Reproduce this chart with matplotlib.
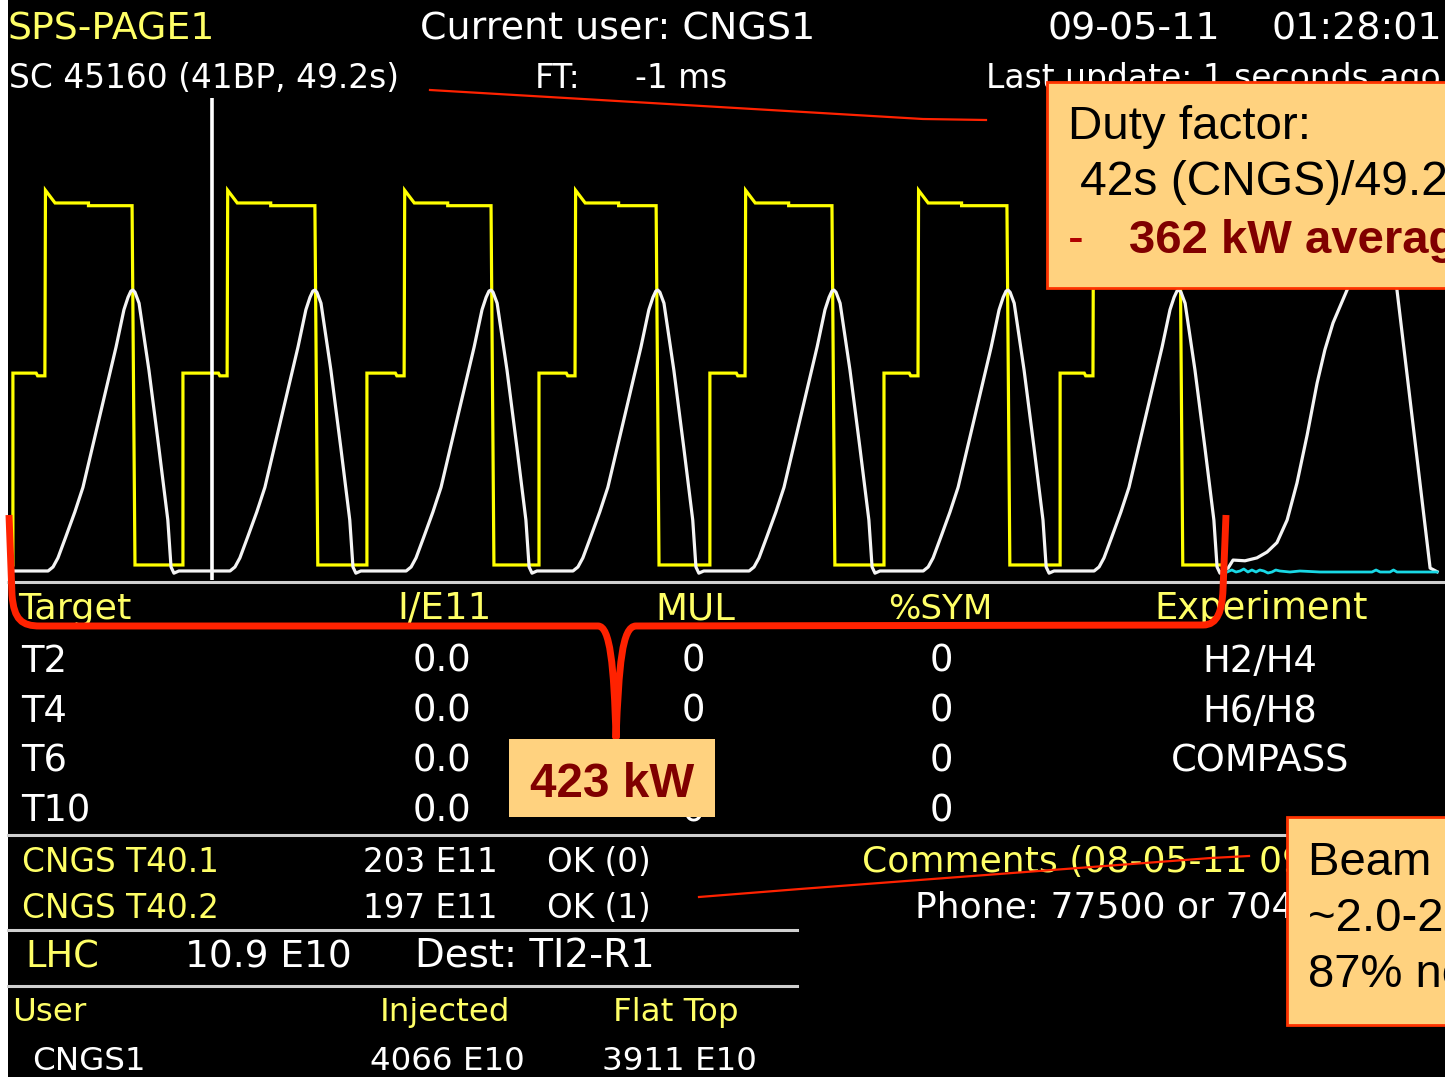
import matplotlib
matplotlib.use("Agg")
import matplotlib.pyplot as plt
from matplotlib.patches import Rectangle, PathPatch
from matplotlib.path import Path

# ------------------------------------------------------------------ data
SUPERCYCLE_S = 49.2
cursor_s = 6.95

# yellow trace: circulating intensity (E11) in the seven CNGS cycles
inj1_s = [0.10, 5.95, 12.28, 18.20, 24.08, 30.07, 36.13]
inj2_s = [1.20, 7.47, 13.56, 19.44, 25.29, 31.24, 37.26]
extr_s = [4.20, 10.49, 16.55, 22.23, 28.28, 34.30, 40.25]
intensity_end_s = 41.63
first_batch_e11 = [212, 209]
second_peak_e11 = 414
flat_top_e11 = [400, 397]
overshoot_dt_s = [0.02, 0.35]
step_dt_s = 1.5
dip_dt_s = [0.30, 0.25]
extr_fall_s = 0.10

# white trace: momentum (GeV/c)
cngs_peak_s = [4.23, 10.49, 16.55, 22.29, 28.35, 34.34, 40.22]
# one CNGS magnetic cycle, relative to its flat-top time
ramp_dt_s = [-2.92, -2.75, -2.58, -2.31, -2.00, -1.72, -1.17, -0.58, -0.31, -0.17, -0.07, 0.0,
             0.07, 0.21, 0.55, 0.89, 1.20, 1.31, 1.41, 1.58]
ramp_p_gev = [14, 19.5, 32, 61, 95, 129, 222, 322, 373, 390, 398.7, 400,
              397, 382, 290, 184, 84, 19.5, 11, 14]
lhc_t_s = [41.70, 41.91, 42.08, 42.49, 42.90, 43.25, 43.59, 43.94, 44.28, 44.63,
           44.97, 45.24, 45.52, 46.00, 46.52, 47.58, 47.72, 48.17, 48.51, 48.86, 49.10]
lhc_p_gev = [14, 18, 29, 28, 32, 40, 53, 84, 135, 201,
             272, 318, 355, 400, 450, 450, 400, 249, 135, 18, 13]

# cyan trace: LHC beam intensity (arbitrary units)
lhc_int_t_s = [41.80, 41.95, 42.04, 42.18, 42.32, 42.45, 42.59, 42.73, 42.87, 43.00,
               43.14, 43.28, 43.42, 43.55, 43.69, 44.04, 44.38, 45.07, 45.76, 46.45,
               46.86, 47.00, 47.14, 47.48, 47.60, 47.72, 48.51, 49.10]
lhc_int = [1, 3, 4, 2, 3, 5, 2, 4, 2, 4,
           3, 1, 2, 4, 3, 2, 3, 2, 2, 2,
           2, 4, 2, 2, 4, 2, 2, 2]

# ------------------------------------------------------------------ figure
W, H = 1445, 1077
fig = plt.figure(figsize=(W / 100, H / 100), dpi=100, facecolor="black")

# trace panel: pixel box x 10..1440, y 98..580
ax = fig.add_axes([10 / W, (H - 580) / H, 1430 / W, (580 - 98) / H])
ax.set_ylim(-16.6, 516)
ax.axis("off")
ax2 = ax.twinx()
ax2.set_ylim(1.6, 664)
ax2.axis("off")
ax3 = ax.twinx()
ax3.set_ylim(-6, 476)
ax3.axis("off")
for a in (ax, ax2, ax3):
    a.set_xlim(0, SUPERCYCLE_S)
    a.patch.set_alpha(0)

# yellow series
ty, vy = [0.0], [0.0]
for a_, b_, c_ in zip(inj1_s, inj2_s, extr_s):
    ty += [a_, a_, b_ - dip_dt_s[0], b_ - dip_dt_s[1], b_,
           b_ + overshoot_dt_s[0], b_ + overshoot_dt_s[1], b_ + step_dt_s, b_ + step_dt_s,
           c_, c_ + extr_fall_s]
    vy += [0, first_batch_e11[0], first_batch_e11[0], first_batch_e11[1], first_batch_e11[1],
           second_peak_e11, flat_top_e11[0], flat_top_e11[0], flat_top_e11[1],
           flat_top_e11[1], 0]
ty.append(intensity_end_s)
vy.append(0)
ax.plot(ty, vy, color="#ffff00", lw=2.3, solid_joinstyle="miter", zorder=3)

# white series
tw, vw = [0.0], [ramp_p_gev[0]]
for tp in cngs_peak_s:
    tw += [tp + d for d in ramp_dt_s]
    vw += ramp_p_gev
tw += lhc_t_s
vw += lhc_p_gev
ax2.plot(tw, vw, color="#f4f4f4", lw=2.3, zorder=4)

# cyan series
ax3.plot(lhc_int_t_s, lhc_int, color="#19d9e6", lw=2.0, zorder=3)

ax.axvline(cursor_s, color="white", lw=2.6, zorder=5)

# ------------------------------------------------------------------ overlay (pixel coords)
ov = fig.add_axes([0, 0, 1, 1])
ov.set_xlim(0, W)
ov.set_ylim(H, 0)
ov.axis("off")
ov.patch.set_alpha(0)

ov.add_patch(Rectangle((0, 0), 8, H, facecolor="white", edgecolor="none", zorder=0))

SEP = "#d0d0d0"
ov.plot([8, W], [581.5, 581.5], color=SEP, lw=2.2, zorder=1)
ov.plot([8, W], [835, 835], color=SEP, lw=2.2, zorder=1)
ov.plot([8, 797], [930, 930], color=SEP, lw=2.2, zorder=1)
ov.plot([8, 797], [986, 986], color=SEP, lw=2.2, zorder=1)

renderer = fig.canvas.get_renderer()
SCREEN = "DejaVu Sans"
SLIDE = "Liberation Sans"
YT = "#ffff66"
WT = "white"


def put(x, y, s, color, size, width=None, ha="left", family=SCREEN, weight="normal", z=4):
    t = ov.text(x, y, s, color=color, fontsize=size, ha=ha, va="baseline",
                family=family, weight=weight, zorder=z)
    if width is not None:
        w = t.get_window_extent(renderer).width
        t.set_fontsize(size * width / w)
    return t


# header
put(8, 40, "SPS-PAGE1", YT, 27, width=207)
L1 = put(420, 40, "Current user: CNGS1", WT, 27, width=395).get_fontsize()
put(1048, 40, "09-05-11", WT, L1)
put(1272, 40, "01:28:01", WT, L1)
L2 = put(9, 88, "SC 45160 (41BP, 49.2s)", WT, 23.7, width=390).get_fontsize()
put(535, 88, "FT:", WT, L2)
put(727, 88, "-1 ms", WT, L2, ha="right")
put(986, 88, "Last update: 1 seconds ago", WT, L2)

# target table
TB = 26.6
put(18, 619, "Target", YT, TB, width=113)
put(397, 619, "I/E11", YT, TB, width=94)
put(655, 619, "MUL", YT, TB, width=80)
put(888, 619, "%SYM", YT, TB, width=104)
put(1154, 619, "Experiment", YT, TB, width=213)

targets = ["T2", "T4", "T6", "T10"]
intens = ["0.0", "0.0", "0.0", "0.0"]
mul = ["0", "0", "0", "0"]
sym = ["0", "0", "0", "0"]
experiments = ["H2/H4", "H6/H8", "COMPASS", ""]
for i, yb in enumerate([672, 722, 772, 822]):
    put(21, yb, targets[i], WT, TB)
    put(413, yb, intens[i], WT, TB)
    put(693, yb, mul[i], WT, TB, ha="center")
    put(941, yb, sym[i], WT, TB, ha="center")
    if experiments[i]:
        put(1260, yb, experiments[i], WT, TB, ha="center")

# CNGS targets
CB = 23.5
put(22, 872, "CNGS T40.1", YT, CB, width=197)
put(363, 872, "203 E11", WT, CB)
put(547, 872, "OK (0)", WT, CB)
put(22, 918, "CNGS T40.2", YT, CB, width=197)
put(363, 918, "197 E11", WT, CB)
put(547, 918, "OK (1)", WT, CB)
put(862, 872, "Comments (08-05-11 09:00)", YT, 26)
put(915, 917, "Phone: 77500 or 70475", WT, 26)

put(25, 968, "LHC", YT, 26.5)
put(185, 968, "10.9 E10", WT, 27, width=167)
put(415, 968, "Dest: TI2-R1", WT, 27, width=240)

UB = 23.4
put(12, 1021, "User", YT, UB)
put(380, 1021, "Injected", YT, UB)
put(613, 1021, "Flat Top", YT, UB)
put(32, 1070, "CNGS1", WT, UB)
put(370, 1070, "4066 E10", WT, UB)
put(602, 1070, "3911 E10", WT, UB)

# ------------------------------------------------------------------ slide annotations
RED = "#ff2200"
BOX = "#ffd27f"
MAROON = "#800000"

ov.plot([430, 923, 986], [90, 119, 120], color=RED, lw=1.6, zorder=8)
ov.plot([699, 800, 1211, 1249], [897, 889, 858, 856], color=RED, lw=1.6, zorder=8)

ov.add_patch(Rectangle((1047, 82), 430, 206, facecolor=BOX, edgecolor="#ff3300", lw=2.0, zorder=9))
put(1068, 139, "Duty factor:", "black", 34, width=243, family=SLIDE, z=10)
put(1080, 195, "42s (CNGS)/49.2s", "black", 34.6, family=SLIDE, z=10)
put(1068, 253, "-", "#b00000", 34, family=SLIDE, z=10)
put(1129, 253, "362 kW average", MAROON, 34, family=SLIDE, weight="bold", z=10)

ov.add_patch(Rectangle((509, 739), 206, 78, facecolor=BOX, edgecolor="none", zorder=9))
put(612, 797, "423 kW", MAROON, 34, width=164, ha="center", family=SLIDE, weight="bold", z=10)

ov.add_patch(Rectangle((1287, 817), 220, 208, facecolor=BOX, edgecolor="#ff3300", lw=2.0, zorder=9))
put(1308, 875, "Beam intensity", "black", 34, family=SLIDE, z=10)
put(1308, 931, "~2.0-2.1 E13", "black", 34, family=SLIDE, z=10)
put(1308, 987, "87% nominal", "black", 34, family=SLIDE, z=10)

M, L, C = Path.MOVETO, Path.LINETO, Path.CURVE4
verts = [(9, 515), (12, 595),
         (14, 620), (22, 626), (40, 626),
         (598, 626),
         (610, 626), (614, 665), (616, 738),
         (619, 665), (622, 626), (636, 626),
         (1203, 625),
         (1218, 625), (1222, 610), (1223, 590),
         (1226, 515)]
codes = [M, L, C, C, C, L, C, C, C, C, C, C, L, C, C, C, L]
ov.add_patch(PathPatch(Path(verts, codes), facecolor="none", edgecolor=RED, lw=5.0,
                       joinstyle="round", capstyle="butt", zorder=8))

fig.savefig("out.png", dpi=100, facecolor="black")
